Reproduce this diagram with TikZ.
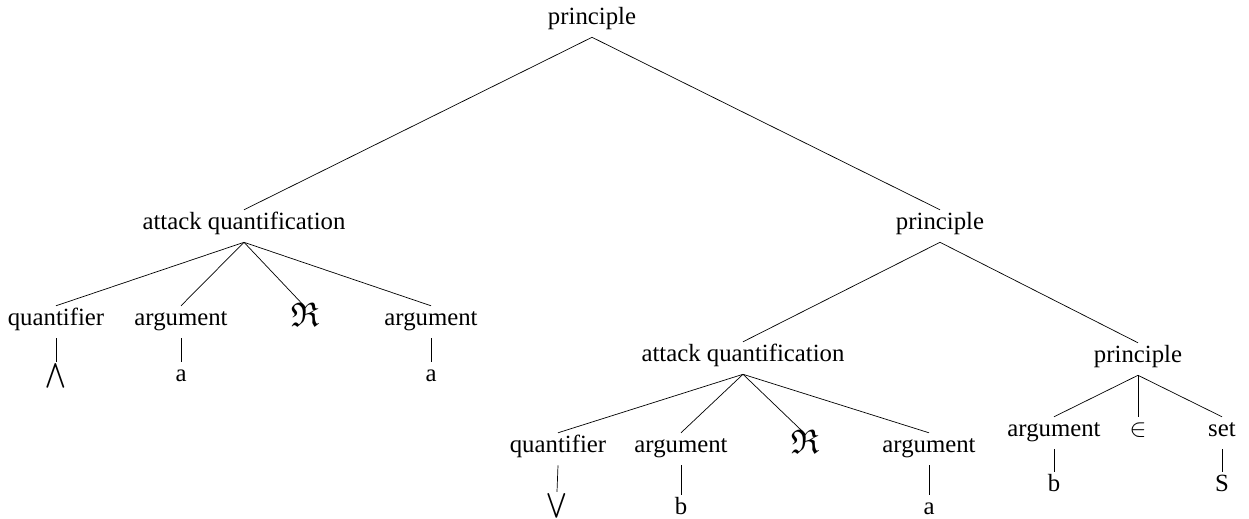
\documentclass[tikz,border=0pt]{standalone}
\usepackage{amsmath}
\usepackage{amssymb}
\usepackage{fontspec}
\setmainfont{Liberation Serif}
\usepackage{tikz}
\usetikzlibrary{positioning}

\begin{document}
\begin{tikzpicture}[
    x=0.02cm, y=-0.02cm,
    lbl/.style={font=\fontsize{14.1}{17}\selectfont, anchor=base,
        inner xsep=1pt, inner ysep=1.3pt, text height=10pt, text depth=5.5pt},
    rel/.style={lbl, font=\fontsize{19.5}{22}\selectfont},
]
    \useasboundingbox (0, 0) rectangle (1249, 519);

    % Root
    \node[lbl] (root) at (592, 25) {principle};

    % Level 1
    \node[lbl] (aqL) at (244, 230) {attack quantification};
    \node[lbl] (prM) at (940, 230) {principle};

    % Left attack quantification
    \node[lbl] (qL)    at (56, 326)  {quantifier};
    \node[lbl] (argL1) at (181, 326) {argument};
    \node[rel] (relL)  at (305, 327) {$\mathfrak{R}$};
    \node[lbl] (argL2) at (431, 326) {argument};
    \node[lbl] (wedge) at (56, 382)  {$\bigwedge$};
    \node[lbl] (aL1)   at (181, 382) {a};
    \node[lbl] (aL2)   at (431, 382) {a};

    % Right principle
    \node[lbl] (aqR) at (743, 362)  {attack quantification};
    \node[lbl] (prR) at (1138, 363) {principle};

    % Right attack quantification
    \node[lbl] (qR)    at (558, 453) {quantifier};
    \node[lbl] (argR1) at (681, 453) {argument};
    \node[rel] (relR)  at (805, 454) {$\mathfrak{R}$};
    \node[lbl] (argR2) at (929, 453) {argument};
    \node[lbl] (vee)   at (557, 512) {$\bigvee$};
    \node[lbl] (bR1)   at (681, 515) {b};
    \node[lbl] (aR)    at (929, 515) {a};

    % Inner principle
    \node[lbl] (argR3) at (1054, 437) {argument};
    \node[lbl] (inR)   at (1138, 437) {$\in$};
    \node[lbl] (setR)  at (1222, 437) {set};
    \node[lbl] (bR2)   at (1054, 492) {b};
    \node[lbl] (sR)    at (1222, 492) {S};

    % Branches
    \foreach \p/\c in {root/aqL, root/prM,
        aqL/qL, aqL/argL1, aqL/relL, aqL/argL2,
        qL/wedge, argL1/aL1, argL2/aL2,
        prM/aqR, prM/prR,
        aqR/qR, aqR/argR1, aqR/relR, aqR/argR2,
        qR/vee, argR1/bR1, argR2/aR,
        prR/argR3, prR/inR, prR/setR,
        argR3/bR2, setR/sR}
        \draw (\p.south) -- (\c.north);
\end{tikzpicture}
\end{document}
